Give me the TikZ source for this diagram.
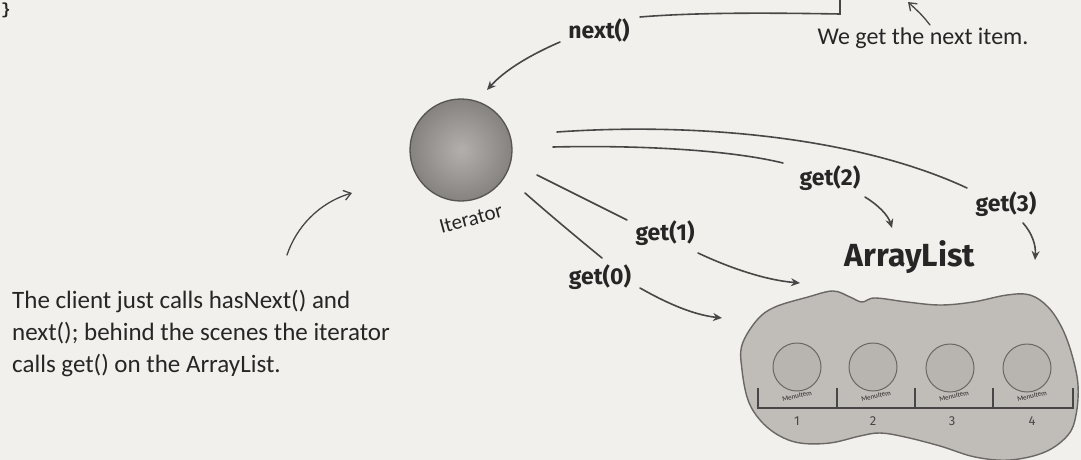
\documentclass[tikz,border=0pt]{standalone}
\usepackage{fontspec}
\setmainfont{Carlito}
\newfontfamily\labfont{Fira Sans}
\newfontfamily\bracefont{Liberation Mono}
\usetikzlibrary{arrows.meta}
\definecolor{bg}{HTML}{F2F0EC}
\definecolor{ink}{HTML}{262626}
\definecolor{lncol}{HTML}{474747}
\definecolor{ballin}{HTML}{B3B0AC}
\definecolor{ballout}{HTML}{858280}
\definecolor{blobfill}{HTML}{C0BDB8}
\definecolor{blobedge}{HTML}{6A6764}
\definecolor{itemfill}{HTML}{B8B5B1}
\tikzset{
  ln/.style={draw=lncol, line width=1.6pt, line cap=round},
  arr/.style={ln, -{Stealth[length=9pt,width=8pt]}},
  handarr/.style={ln, line width=1.3pt, -{Straight Barb[length=7pt,width=10pt]}},
  lab/.style={text=ink, font=\labfont\bfseries\fontsize{23}{26}\selectfont, inner sep=0pt},
  hand/.style={text=ink, font=\fontsize{25}{28}\selectfont, inner sep=0pt},
  item/.style={circle, draw=blobedge, line width=1pt, fill=itemfill, minimum size=48pt, inner sep=0pt},
  tiny/.style={text=ink, font=\fontsize{7}{8}\selectfont, inner sep=0pt, rotate=12},
  num/.style={text=lncol, font=\labfont\fontsize{13}{14}\selectfont, inner sep=0pt}
}
\begin{document}
\begin{tikzpicture}[x=1pt,y=-1pt]
\useasboundingbox (0,0) rectangle (1081,460);
\clip (0,0) rectangle (1081,460);
\fill[bg] (0,0) rectangle (1081,460);

% brace at top left
\node[text=ink, font=\bracefont\bfseries\fontsize{16}{18}\selectfont, inner sep=0pt] (brace) at (6,10) {\}};

% iterator ball
\node[circle, minimum size=102pt, inner sep=0pt, draw=ballout!65!black, line width=1.3pt,
      inner color=ballin, outer color=ballout] (it) at (461,150) {};
\node[hand, font=\fontsize{21}{23}\selectfont, rotate=15] (itl) at (471,219) {Iterator};

% labels
\node[lab] (next) at (599,30) {next()};
\node[lab] (g2) at (830,178) {get(2)};
\node[lab] (g3) at (1006,204) {get(3)};
\node[lab] (g1) at (665,233) {get(1)};
\node[lab] (g0) at (600,277) {get(0)};
\node[lab, font=\labfont\bfseries\fontsize{32}{34}\selectfont] (al) at (910,257) {ArrayList};

\node[hand, font=\fontsize{24}{26}\selectfont] (we) at (923,38) {We get the next item.};
\node[hand, anchor=base west] (cl1) at (12,308) {The client just calls hasNext() and};
\node[hand, anchor=base west] (cl2) at (12,340) {next(); behind the scenes the iterator};
\node[hand, anchor=base west] (cl3) at (12,372) {calls get() on the ArrayList.};

% coordinates for connector ends
\coordinate (n1) at (640,17);
\coordinate (tc) at (840,14);
\coordinate (tt) at (840,-4);
\coordinate (na) at (560,42);
\coordinate (nb) at (487,90);
\coordinate (u1) at (557,132);
\coordinate (u2) at (967,188);
\coordinate (l1) at (553,147);
\coordinate (l2) at (783,163);
\coordinate (a1) at (537,175);
\coordinate (a2) at (627,220);
\coordinate (b1) at (525,193);
\coordinate (b2) at (602,258);
\coordinate (c2s) at (865,197);
\coordinate (c2e) at (892,228);
\coordinate (c3s) at (1023,223);
\coordinate (c3e) at (1035,260);
\coordinate (c1s) at (698,253);
\coordinate (c1e) at (800,283);
\coordinate (c0s) at (640,288);
\coordinate (c0e) at (722,318);
\coordinate (ws) at (930,25);
\coordinate (we2) at (908,2);
\coordinate (cs) at (287,255);
\coordinate (ce) at (352,193);

% connectors
\draw[ln] (n1) .. controls (700,12) and (780,13) .. (tc) -- (tt);
\draw[arr] (na) .. controls (530,55) and (505,70) .. (nb);
\draw[ln] (u1) .. controls (700,122) and (860,138) .. (u2);
\draw[ln] (l1) .. controls (640,145) and (730,150) .. (l2);
\draw[ln] (a1) -- (a2);
\draw[ln] (b1) .. controls (550,215) and (580,240) .. (b2);
\draw[arr] (c2s) .. controls (878,205) and (888,215) .. (c2e);
\draw[arr] (c3s) .. controls (1032,233) and (1036,245) .. (c3e);
\draw[arr] (c1s) .. controls (730,268) and (765,280) .. (c1e);
\draw[arr] (c0s) .. controls (670,305) and (695,315) .. (c0e);
\draw[handarr] (ws) .. controls (922,15) .. (we2);
\draw[handarr] (cs) .. controls (296,228) and (318,203) .. (ce);

% ArrayList blob
\draw[draw=blobedge, line width=1.4pt, fill=blobfill] plot[smooth cycle, tension=0.6] coordinates {
 (742,345) (757,320) (775,307) (808,297) (833,291) (850,297) (862,302) (875,298)
 (907,302) (940,305) (973,302) (1007,295) (1030,295) (1048,307) (1062,328)
 (1072,355) (1078,385) (1076,415) (1068,435) (1045,452) (1010,460) (975,457)
 (940,446) (905,437) (880,433) (860,436) (830,443) (800,443) (778,435)
 (760,420) (748,400) (742,370)};

% menu items
\node[item] (m1) at (797,367) {};
\node[item] (m2) at (873,367) {};
\node[item] (m3) at (950,368) {};
\node[item] (m4) at (1027,368) {};
\node[tiny] (t1) at (797,396) {MenuItem};
\node[tiny] (t2) at (876,396) {MenuItem};
\node[tiny] (t3) at (954,396) {MenuItem};
\node[tiny] (t4) at (1032,396) {MenuItem};
\draw[draw=lncol, line width=1.1pt] (758,388) -- (758,408) -- (1073,408) -- (1073,388);
\foreach \x in {837,915,993} \draw[draw=lncol, line width=1.1pt] (\x,388) -- (\x,408);
\node[num] (k1) at (797,421) {1};
\node[num] (k2) at (873,421) {2};
\node[num] (k3) at (952,421) {3};
\node[num] (k4) at (1032,421) {4};
\end{tikzpicture}
\end{document}
